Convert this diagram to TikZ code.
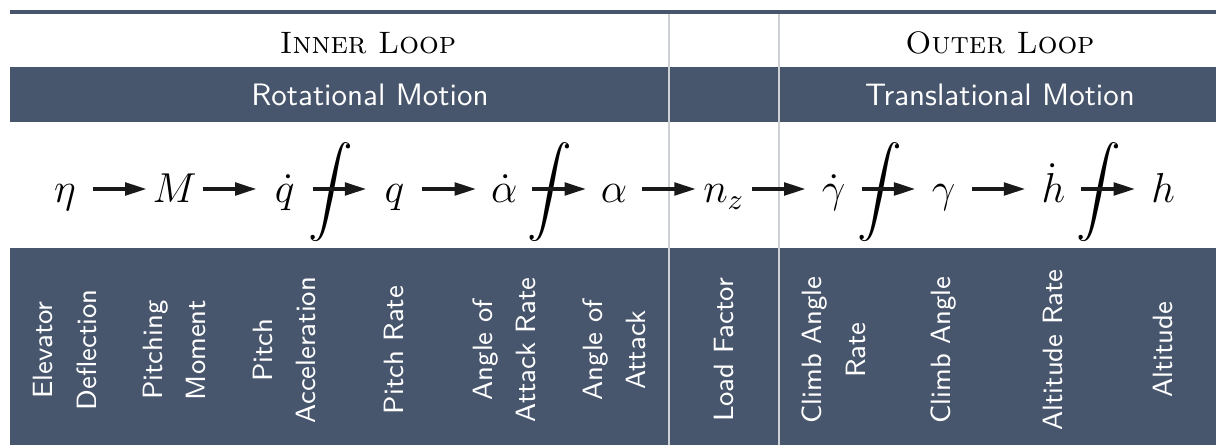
\RequirePackage{fix-cm}
\documentclass[tikz,border=0pt]{standalone}
\usepackage{amsmath}
\usetikzlibrary{arrows.meta}
\definecolor{slate}{RGB}{71,85,109}
\definecolor{sepgray}{RGB}{205,208,213}
\begin{document}
\begin{tikzpicture}[x=0.3226pt,y=-0.3226pt,
  hdr/.style={font=\fontsize{10}{12}\selectfont\scshape, anchor=base, inner sep=0pt},
  bandtxt/.style={font=\fontsize{10}{12}\selectfont\sffamily, text=white, anchor=base, inner sep=0pt},
  var/.style={font=\fontsize{13.5}{16}\selectfont, anchor=base, inner sep=0pt},
  flow/.style={line width=1.3pt, -{Triangle[length=7pt,width=4pt]}, draw=black!90},
  lbl/.style={font=\fontsize{9}{14}\selectfont\sffamily, text=white, rotate=90, align=center, inner sep=0pt},
  sepline/.style={draw=sepgray, line width=0.7pt},
]
\useasboundingbox (0,0) rectangle (1216,445);
% bands and rules
\fill[slate] (10,67) rectangle (1216,122);
\fill[slate] (10,248) rectangle (1216,445);
\draw[slate, line width=1.1pt] (10,12) -- (1216,12);
\draw[sepline] (669,14) -- (669,445);
\draw[sepline] (778.8,14) -- (778.8,445);
% headers
\node[hdr] (inner) at (368,54) {Inner Loop};
\node[hdr] (outer) at (1000,54) {Outer Loop};
\node[bandtxt] (rot) at (370,106) {Rotational Motion};
\node[bandtxt] (trans) at (1000,106) {Translational Motion};
% math chain
\node[var] (eta) at (64.9,203) {$\eta$};
\node[var] (M) at (174.7,203) {$M$};
\node[var] (qd) at (284.6,203) {$\dot q$};
\node[var] (int1) at (330.5,203) {$\displaystyle\int$};
\node[var] (q) at (394.4,203) {$q$};
\node[var] (ad) at (504.2,203) {$\dot\alpha$};
\node[var] (int2) at (550.2,203) {$\displaystyle\int$};
\node[var] (al) at (614.1,203) {$\alpha$};
\node[var] (nz) at (723.9,203) {$n_z$};
\node[var] (gd) at (833.7,203) {$\dot\gamma$};
\node[var] (int3) at (879.6,203) {$\displaystyle\int$};
\node[var] (ga) at (943.6,203) {$\gamma$};
\node[var] (hd) at (1053.4,203) {$\dot h$};
\node[var] (int4) at (1099.3,203) {$\displaystyle\int$};
\node[var] (h) at (1163.2,203) {$h$};
% arrow end points
\foreach \i/\b in {1/119.8,2/229.7,3/339.5,4/449.3,5/559.2,6/669.0,7/778.8,8/888.6,9/998.5,10/1108.3}{
  \coordinate (s\i) at (\b-27,189);
  \coordinate (e\i) at (\b+27,189);
}
\foreach \i in {1,...,10}{\draw[flow] (s\i) -- (e\i);}
% labels
\node[lbl] (l1) at (64.9,350) {Elevator\\Deflection};
\node[lbl] (l2) at (174.7,350) {Pitching\\Moment};
\node[lbl] (l3) at (284.6,350) {Pitch\\Acceleration};
\node[lbl] (l4) at (394.4,350) {Pitch Rate};
\node[lbl] (l5) at (504.2,350) {Angle of\\Attack Rate};
\node[lbl] (l6) at (614.1,350) {Angle of\\Attack};
\node[lbl] (l7) at (723.9,350) {Load Factor};
\node[lbl] (l8) at (833.7,350) {Climb Angle\\Rate};
\node[lbl] (l9) at (943.6,350) {Climb Angle};
\node[lbl] (l10) at (1053.4,350) {Altitude Rate};
\node[lbl] (l11) at (1163.2,350) {Altitude};
\end{tikzpicture}
\end{document}
